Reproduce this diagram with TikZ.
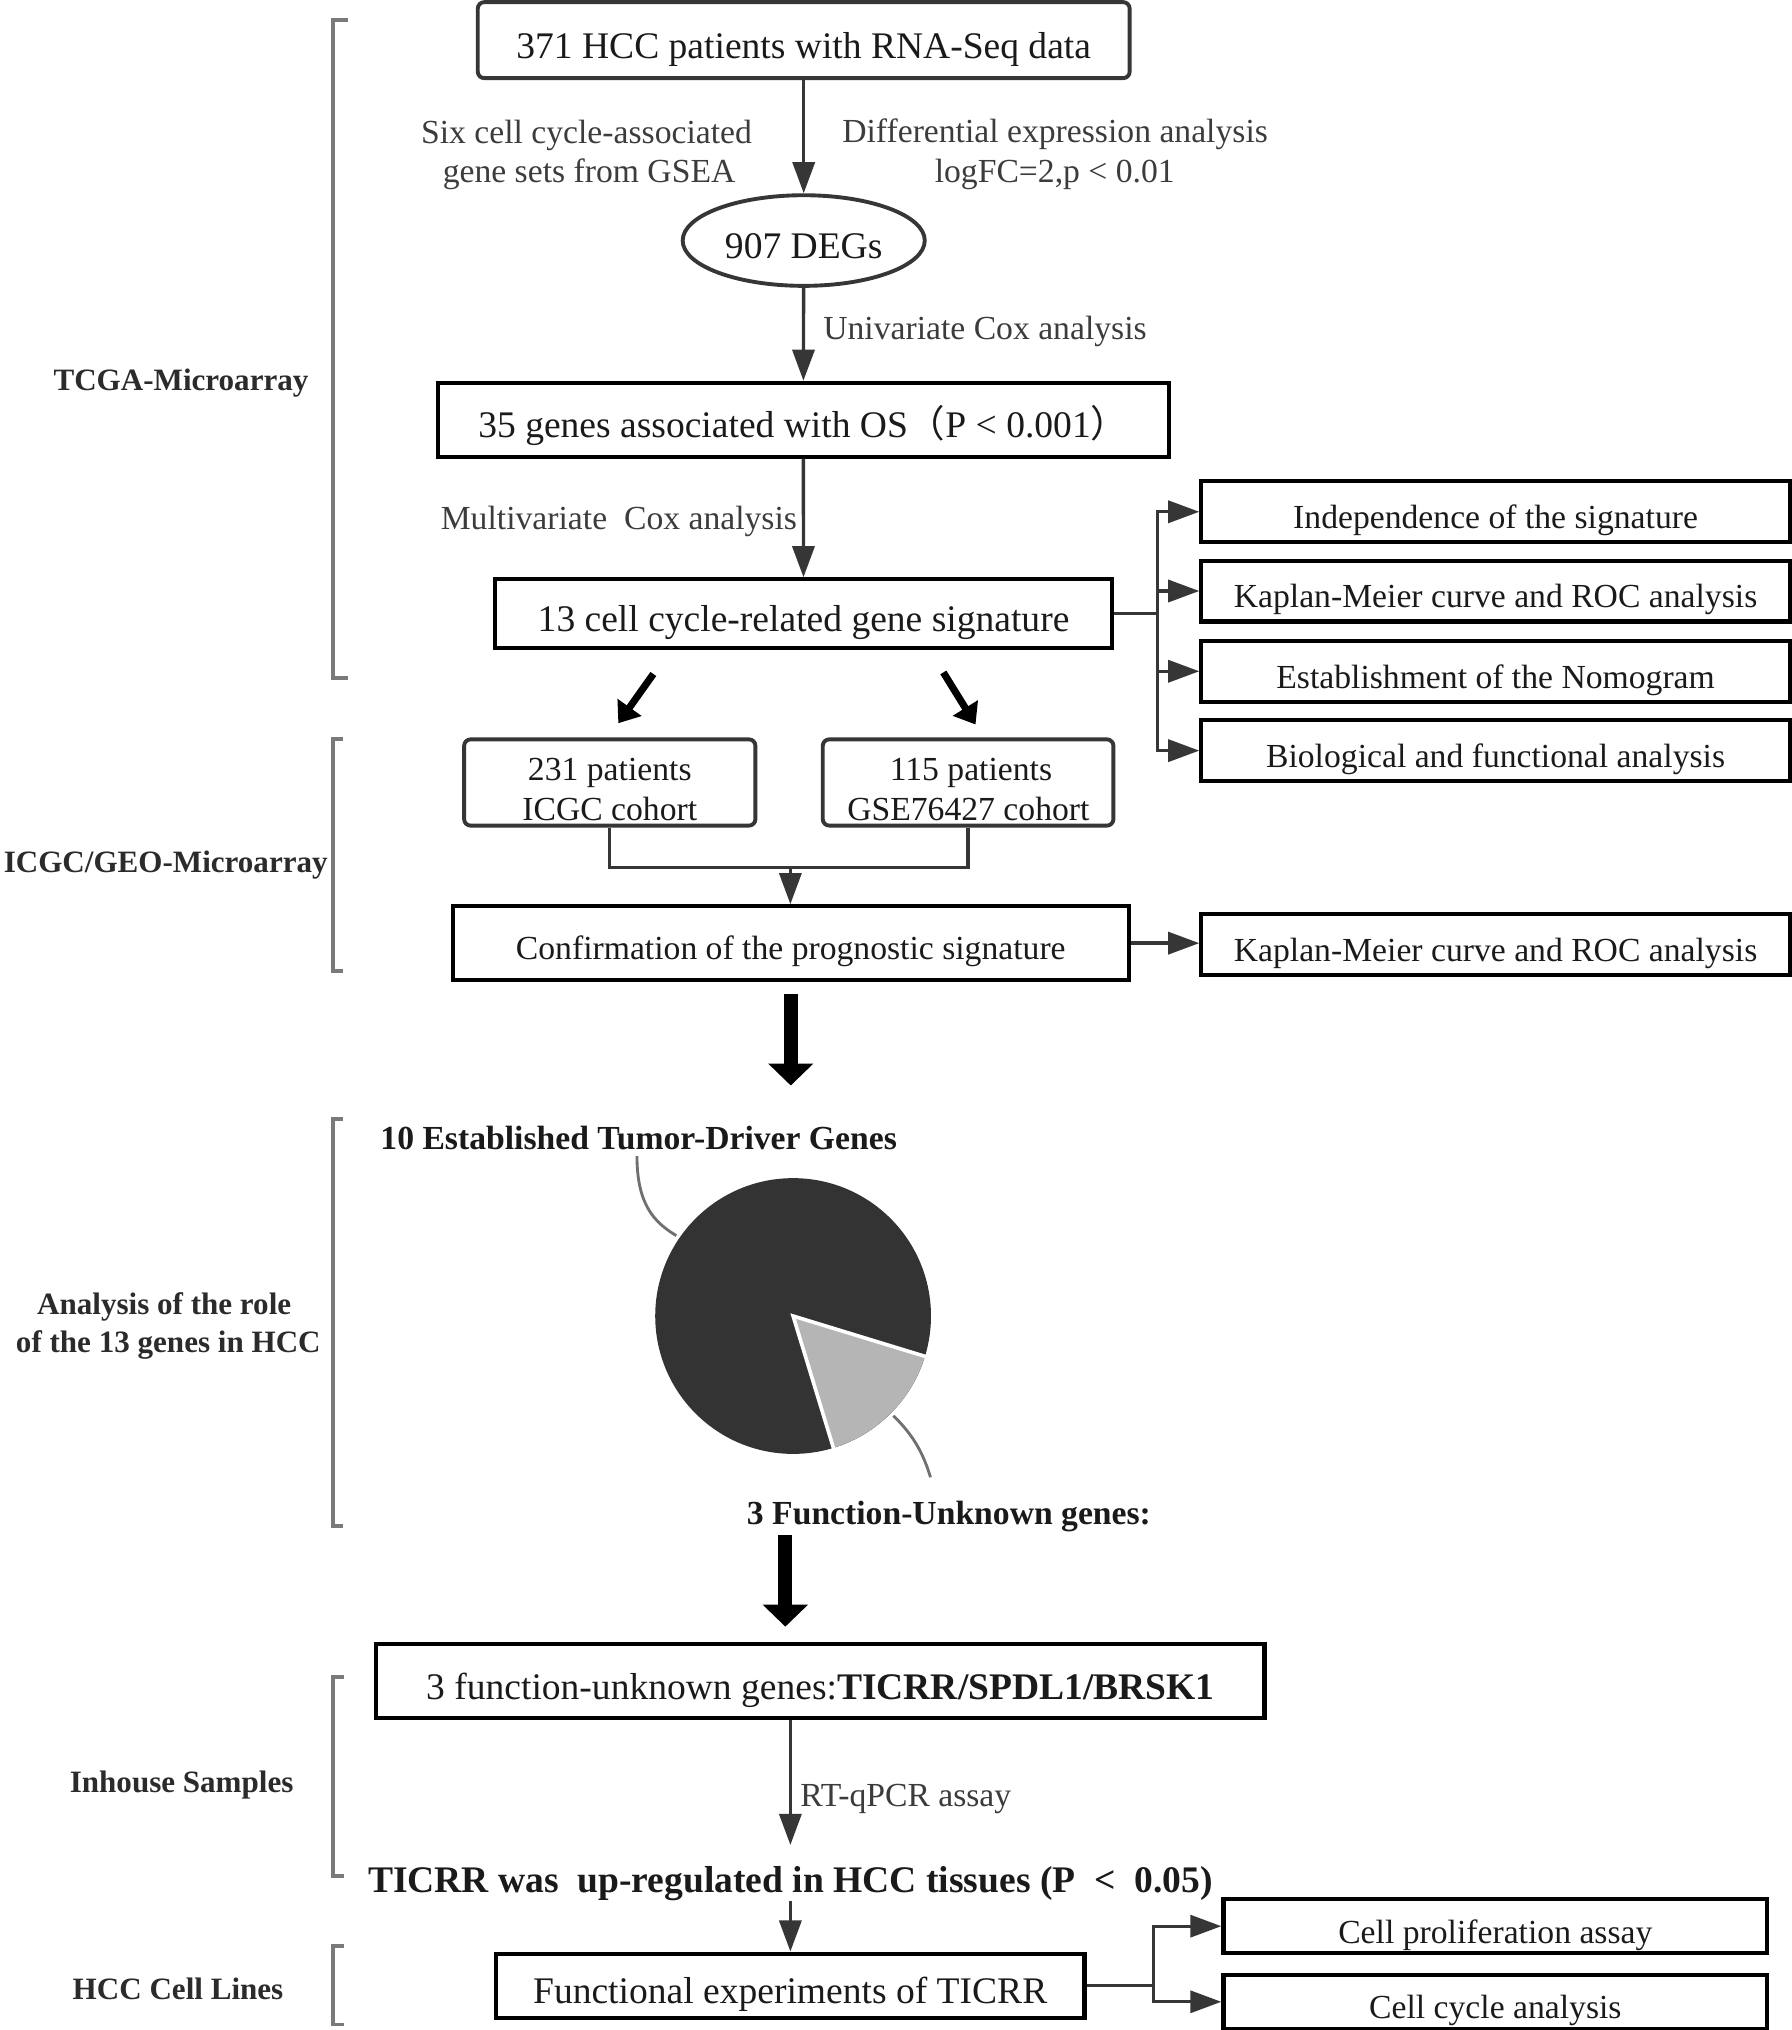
\documentclass[tikz,border=0pt]{standalone}
\usepackage{fontspec}
\setmainfont{Liberation Serif}
\newfontfamily\cjk{Noto Sans CJK SC}
\usetikzlibrary{arrows.meta,shapes.geometric,calc}
\definecolor{txtc}{HTML}{1A1A1A}
\definecolor{lblc}{HTML}{3C3C3C}
\definecolor{arrc}{HTML}{363636}
\definecolor{brkc}{HTML}{7A7A7A}
\definecolor{sidec}{HTML}{2B2B2B}
\definecolor{piedark}{HTML}{333333}
\definecolor{pielight}{HTML}{B5B5B5}
\definecolor{leadc}{HTML}{707070}
\tikzset{
 bigtxt/.style={font=\fontsize{29}{34}\selectfont, text=txtc, text height=28pt, text depth=0pt, inner sep=0pt},
 smtxt/.style={font=\fontsize{26}{31}\selectfont, text=txtc, text height=26pt, text depth=0pt, inner sep=0pt},
 sqbox/.style={draw=black, line width=3.2pt, rectangle},
 rbox/.style={draw=arrc, line width=3pt, rounded corners=5pt, rectangle},
 lbl/.style={font=\fontsize{26}{31}\selectfont, text=lblc, inner sep=0pt, anchor=base},
 sidelbl/.style={font=\bfseries\fontsize{24}{29}\selectfont, text=sidec, inner sep=0pt, anchor=base},
 piettl/.style={font=\bfseries\fontsize{26}{31}\selectfont, text=txtc, inner sep=0pt, anchor=base},
 arr/.style={draw=arrc, line width=2.6pt, -{Triangle[length=24pt,width=17pt]}},
 conn/.style={draw=arrc, line width=2.6pt},
 brk/.style={draw=brkc, line width=3pt},
 thickarr/.style={draw=black, line width=11pt, -{Triangle[length=17pt,width=34pt]}},
 diagarr/.style={draw=black, line width=5.5pt, -{Triangle[length=15pt,width=22pt]}},
 leader/.style={draw=leadc, line width=2.2pt},
}
\begin{document}
\begin{tikzpicture}[x=1pt,y=-1pt]
\useasboundingbox (0,0) rectangle (1383.4,1568);

% ---- brackets
\draw[brk] (269,15.5) -- (257.3,15.5) -- (257.3,523.4) -- (269,523.4);
\draw[brk] (265,571) -- (257.3,571) -- (257.3,750) -- (265,750);
\draw[brk] (265,864.6) -- (257.3,864.6) -- (257.3,1178.7) -- (265,1178.7);
\draw[brk] (266,1295) -- (257.3,1295) -- (257.3,1449) -- (266,1449);
\draw[brk] (266,1503) -- (257.3,1503) -- (257.3,1563.7) -- (266,1563.7);

% ---- side labels
\node[sidelbl] (tcga) at (139.8,301.9) {TCGA-Microarray};
\node[sidelbl] (geo) at (128,673.8) {ICGC/GEO-Microarray};
\node[sidelbl] (an1) at (126.8,1015.3) {Analysis of the role};
\node[sidelbl] (an2) at (130,1044.7) {of the 13 genes in HCC};
\node[sidelbl] (inh) at (140.3,1384.6) {Inhouse Samples};
\node[sidelbl] (hcl) at (137.5,1544.5) {HCC Cell Lines};

% ---- main boxes
\node[rbox, bigtxt, minimum width=503.5pt, minimum height=58.7pt] (top) at (620.8,31) {371 HCC patients with RNA-Seq data};
\node[ellipse, draw=arrc, line width=3pt, bigtxt, minimum width=187pt, minimum height=70pt] (deg) at (620.8,185.8) {907 DEGs};
\node[sqbox, bigtxt, minimum width=565pt, minimum height=57pt] (g35) at (620.5,324.2) {35 genes associated with OS{\cjk （}P < 0.001{\cjk ）}};
\node[sqbox, bigtxt, minimum width=476.5pt, minimum height=52.8pt] (sig) at (620.65,473.9) {13 cell cycle-related gene signature};

\node[sqbox, smtxt, minimum width=454.5pt, minimum height=47pt] (s1) at (1155.2,395.3) {Independence of the signature};
\node[sqbox, smtxt, minimum width=454.5pt, minimum height=47pt] (s2) at (1155.2,456.5) {Kaplan-Meier curve and ROC analysis};
\node[sqbox, smtxt, minimum width=454.5pt, minimum height=47pt] (s3) at (1155.2,518.5) {Establishment of the Nomogram};
\node[sqbox, smtxt, minimum width=454.5pt, minimum height=47pt] (s4) at (1155.2,579.8) {Biological and functional analysis};

\node[rbox, minimum width=225pt, minimum height=66.6pt, inner sep=0pt] (icgc) at (471,604.4) {};
\node[lbl, text=txtc] (icgc1) at (471,603) {231 patients};
\node[lbl, text=txtc] (icgc2) at (471,634) {ICGC cohort};
\node[rbox, minimum width=224.5pt, minimum height=66.6pt, inner sep=0pt] (gse) at (747.75,604.4) {};
\node[lbl, text=txtc] (gse1) at (750,603) {115 patients};
\node[lbl, text=txtc] (gse2) at (748,634) {GSE76427 cohort};

\node[sqbox, smtxt, minimum width=522.4pt, minimum height=57pt] (conf) at (610.8,728.5) {Confirmation of the prognostic signature};
\node[sqbox, smtxt, minimum width=454.5pt, minimum height=47pt] (km2) at (1155.2,729.3) {Kaplan-Meier curve and ROC analysis};

% ---- pie
\coordinate (pc) at (612.6,1016.5);
\fill[piedark] (pc) circle[radius=106.5];
\fill[pielight] (pc) -- ($(pc)+(17:106.5)$) arc[start angle=17,end angle=73,radius=106.5] -- cycle;
\draw[white, line width=2.8pt, line join=miter] ($(pc)+(17:107)$) -- (pc) -- ($(pc)+(73:107)$);
\node[piettl] (ten) at (493.3,887.7) {10 Established Tumor-Driver Genes};
\node[piettl] (three) at (733,1177.5) {3 Function-Unknown genes:};
\coordinate (l1a) at (492,893);
\coordinate (l1b) at (522.4,954.4);
\draw[leader] (l1a) .. controls (492,930) and (505,944) .. (l1b);
\coordinate (l2a) at (690,1093.5);
\coordinate (l2b) at (718.7,1141);
\draw[leader] (l2a) .. controls (705,1108) and (713,1122) .. (l2b);

% ---- lower boxes
\node[sqbox, bigtxt, minimum width=686pt, minimum height=57.3pt] (g3) at (633.7,1298.4) {3 function-unknown genes:\textbf{TICRR/SPDL1/BRSK1}};
\node[piettl, font=\bfseries\fontsize{29}{34}\selectfont] (ticrr) at (610.5,1461.4) {TICRR was\ \ up-regulated in HCC tissues (P\ \ <\ \ 0.05)};
\node[sqbox, bigtxt, minimum width=454.7pt, minimum height=49.7pt] (func) at (610.35,1533.85) {Functional experiments of TICRR};
\node[sqbox, smtxt, minimum width=420pt, minimum height=41.6pt] (c1) at (1155,1487.8) {Cell proliferation assay};
\node[sqbox, smtxt, minimum width=420pt, minimum height=41.6pt] (c2) at (1155,1546.2) {Cell cycle analysis};

% ---- arrow labels
\node[lbl] (sixA) at (453,110.5) {Six cell cycle-associated};
\node[lbl] (sixB) at (455,140.8) {gene sets from GSEA};
\node[lbl] (difA) at (815,110) {Differential expression analysis};
\node[lbl] (difB) at (814.7,140.8) {logFC=2,p < 0.01};
\node[lbl, anchor=base west] (univ) at (635.7,262) {Univariate Cox analysis};
\node[lbl, anchor=base east] (multi) at (615.8,408.8) {Multivariate\ \ Cox analysis};
\node[lbl, anchor=base west] (rtq) at (618,1395) {RT-qPCR assay};

% ---- connectors
\draw[arr] (top) -- (deg);
\draw[arr] (deg) -- (g35);
\draw[arr] (g35) -- (sig);
\coordinate (b1) at (894,473.9);
\draw[conn] (sig.east) -- (b1);
\draw[arr] (b1) |- (s1.west);
\draw[arr] (b1) |- (s2.west);
\draw[arr] (b1) |- (s3.west);
\draw[arr] (b1) |- (s4.west);

\draw[diagarr] ([xshift=-116pt,yshift=-18.7pt]sig.south) -- ([xshift=6.6pt,yshift=11pt]icgc.north);
\draw[diagarr] ([xshift=108pt,yshift=-17.5pt]sig.south) -- ([xshift=5.75pt,yshift=10pt]gse.north);

\coordinate (jn) at (610.5,670);
\draw[conn] (icgc.south) |- (jn -| gse.south) -- (gse.south);
\draw[arr] (jn) -- (jn |- conf.north);
\draw[arr] (conf.east) -- (conf.east -| km2.west);

\draw[thickarr, shorten <=9.5pt, shorten >=31pt] (conf.south) -- (conf.south |- ten.north);
\coordinate (tk2) at (606.6,1186);
\draw[thickarr, shorten >=11.7pt] (tk2) -- (tk2 |- g3.north);

\draw[arr] (g3.south -| ticrr.north) -- ([yshift=16pt]ticrr.north);
\draw[arr] (ticrr.south) -- (ticrr.south |- func.north);
\coordinate (b2) at (891,1533.85);
\draw[conn] (func.east) -- (b2);
\draw[arr] (b2) |- (c1.west);
\draw[arr] (b2) |- (c2.west);
\end{tikzpicture}
\end{document}
